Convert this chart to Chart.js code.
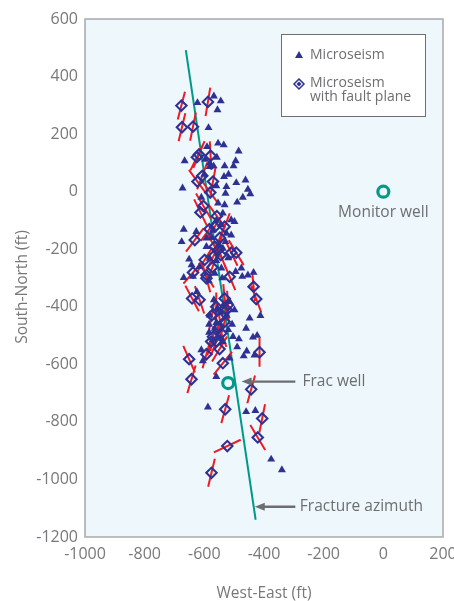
<!DOCTYPE html>
<html>
<head>
<meta charset="utf-8">
<script src="https://cdn.jsdelivr.net/npm/chart.js@4.4.1/dist/chart.umd.min.js"></script>
<style>
  html, body { margin: 0; padding: 0; background: #fff; }
</style>
</head>
<body>
<canvas id="chart" width="454" height="601"></canvas>
<script>
// Axis ticks (ft)
const X_TICKS = [-1000, -800, -600, -400, -200, 0, 200];
const Y_TICKS = [-1200, -1000, -800, -600, -400, -200, 0, 200, 400, 600];

// Plain microseisms [west-east, south-north] in ft
const microseisms = [
  [-623, 309], [-568, 332], [-545, 315], [-556, 284], [-586, 222],
  [-666, 107], [-554, 168], [-535, 162], [-485, 141], [-495, 107],
  [-591, 156], [-558, 119], [-532, 89], [-502, 89], [-582, 87],
  [-569, 89], [-519, 60], [-534, 52], [-462, 40], [-493, 31],
  [-597, 112], [-582, 99], [-673, 12], [-526, 17], [-454, 8],
  [-446, -8], [-529, -6], [-471, -20], [-490, -37], [-532, -46],
  [-554, -40], [-538, -75], [-669, -131], [-676, -174], [-510, -98],
  [-499, -104], [-526, -145], [-510, -151], [-571, -133], [-593, -162],
  [-627, -139], [-593, -191], [-529, -174], [-538, -197], [-651, -235],
  [-643, -255], [-582, -232], [-616, -261], [-669, -299], [-638, -295],
  [-565, -284], [-543, -266], [-495, -278], [-476, -266], [-473, -295],
  [-454, -290], [-435, -281], [-625, -348], [-568, -376], [-556, -405],
  [-537, -395], [-515, -382], [-499, -411], [-582, -429], [-448, -440],
  [-412, -431], [-584, -461], [-507, -461], [-460, -475], [-565, -475],
  [-584, -489], [-504, -504], [-484, -512], [-437, -506], [-423, -500],
  [-538, -521], [-610, -550], [-458, -554], [-468, -571], [-432, -568],
  [-515, -579], [-605, -588], [-560, -643], [-588, -749], [-460, -765],
  [-429, -761], [-376, -930], [-340, -967],
  [-560, -100], [-545, -115], [-575, -160], [-550, -185], [-520, -230],
  [-560, -240], [-540, -300], [-585, -310], [-545, -420], [-525, -430],
  [-560, -455], [-520, -480], [-545, -510], [-490, -540], [-600, 60],
  [-560, 20], [-610, -20]
];

// Microseisms with fault plane [west-east, south-north, strike in degrees from north]
const faultEvents = [
  [-677, 299, 14], [-588, 312, 9], [-675, 224, 13], [-638, 226, 11],
  [-618, 129, 22], [-625, 120, 25], [-579, 125, -3], [-607, 55, 20],
  [-623, 35, -35], [-571, 35, 10], [-580, -3, -35], [-613, -72, -25],
  [-603, -50, -30], [-558, -85, -35], [-532, -122, 20], [-565, -122, 30],
  [-583, -130, 35], [-548, -160, 20], [-632, -168, 36], [-565, -191, -30],
  [-554, -203, 15], [-510, -212, -25], [-493, -212, -30], [-599, -237, 31],
  [-573, -263, 20], [-638, -281, 40], [-593, -290, -30], [-515, -296, -22],
  [-593, -301, -15], [-435, -330, -5], [-641, -371, -27], [-616, -376, -18],
  [-560, -400, 0], [-532, -371, -5], [-521, -394, -3], [-426, -373, -20],
  [-549, -440, -10], [-575, -430, 10], [-532, -452, 15], [-554, -475, -10],
  [-543, -492, -20], [-571, -504, 10], [-577, -521, 15], [-549, -547, 30],
  [-593, -565, 15], [-651, -582, -23], [-415, -558, 0], [-538, -596, 38],
  [-643, -652, 16], [-443, -687, 15], [-530, -756, 15], [-406, -788, 11],
  [-421, -854, -30], [-523, -884, 64], [-576, -977, 13],
  [-545, -220, -20], [-570, -225, 25], [-525, -410, -10], [-560, -520, 20]
];

// Wells and fracture azimuth
const wells = [[0, 0], [-520, -665]];
const fractureAzimuth = [[-662, 492], [-428, -1140]];

// Annotations (ft)
const arrows = [
  { from: [-295, -660], to: [-475, -660] },
  { from: [-295, -1095], to: [-431, -1095] }
];
const notes = [
  { text: 'Monitor well', at: [0, -72], align: 'center' },
  { text: 'Frac well', at: [-271, -660], align: 'left' },
  { text: 'Fracture azimuth', at: [-280, -1095], align: 'left' }
];

const Y_TITLE = 'South-North (ft)';
const FAULT_HALF_LEN = 50; // ft, half length of the red fault-plane marks
const NAVY = '#2e3192';
const TEAL = '#009889';
const GRAY = '#6d6e71';
const AXIS_GRAY = '#77787b';

// red fault-plane segments, separated by gaps
const faultSegments = [];
faultEvents.forEach(([x, y, strike]) => {
  const r = strike * Math.PI / 180;
  const dx = Math.sin(r) * FAULT_HALF_LEN;
  const dy = Math.cos(r) * FAULT_HALF_LEN;
  faultSegments.push({ x: x - dx, y: y - dy }, { x: x + dx, y: y + dy }, { x: null, y: null });
});

const toPoints = arr => arr.map(([x, y]) => ({ x, y }));

// background, frame, y title, arrows, notes and the legend box
const extrasPlugin = {
  id: 'extras',
  beforeDraw(chart) {
    const { ctx, chartArea: a } = chart;
    ctx.save();
    ctx.fillStyle = '#eef7fc';
    ctx.fillRect(a.left, a.top, a.width, a.height);
    ctx.restore();
  },
  afterDraw(chart) {
    const { ctx, chartArea: a, scales: { x, y } } = chart;
    ctx.save();

    ctx.strokeStyle = '#a7a9ac';
    ctx.lineWidth = 1.5;
    ctx.strokeRect(a.left, a.top, a.width, a.height);

    // y axis title, sitting a little below the plot centre like the original
    ctx.save();
    ctx.translate(23, (a.top + a.bottom) / 2 + 9);
    ctx.rotate(-Math.PI / 2);
    ctx.fillStyle = AXIS_GRAY;
    ctx.font = "15.5px 'Open Sans', sans-serif";
    ctx.textAlign = 'center';
    ctx.textBaseline = 'middle';
    ctx.fillText(Y_TITLE, 0, 0);
    ctx.restore();

    // arrows
    ctx.strokeStyle = GRAY;
    ctx.fillStyle = GRAY;
    ctx.lineWidth = 2.4;
    arrows.forEach(ar => {
      const x1 = x.getPixelForValue(ar.from[0]);
      const x2 = x.getPixelForValue(ar.to[0]);
      const py = y.getPixelForValue(ar.from[1]);
      ctx.beginPath();
      ctx.moveTo(x1, py);
      ctx.lineTo(x2 + 8, py);
      ctx.stroke();
      ctx.beginPath();
      ctx.moveTo(x2, py);
      ctx.lineTo(x2 + 10, py - 4);
      ctx.lineTo(x2 + 10, py + 4);
      ctx.closePath();
      ctx.fill();
    });

    // notes
    ctx.font = "15.5px 'Open Sans', sans-serif";
    ctx.textBaseline = 'middle';
    notes.forEach(n => {
      ctx.textAlign = n.align;
      ctx.fillText(n.text, x.getPixelForValue(n.at[0]), y.getPixelForValue(n.at[1]));
    });

    // legend
    const bx = a.right - 162, by = a.top + 15;
    ctx.fillStyle = '#fff';
    ctx.fillRect(bx, by, 144, 82);
    ctx.strokeStyle = '#6d6e71';
    ctx.lineWidth = 1;
    ctx.strokeRect(bx + 0.5, by + 0.5, 144, 82);

    const mx = bx + 18;
    ctx.fillStyle = NAVY;
    ctx.beginPath();
    ctx.moveTo(mx, by + 17);
    ctx.lineTo(mx + 4, by + 24);
    ctx.lineTo(mx - 4, by + 24);
    ctx.closePath();
    ctx.fill();

    const dy = by + 50;
    ctx.strokeStyle = NAVY;
    ctx.lineWidth = 1.5;
    ctx.beginPath();
    ctx.moveTo(mx, dy - 5); ctx.lineTo(mx + 5, dy); ctx.lineTo(mx, dy + 5); ctx.lineTo(mx - 5, dy);
    ctx.closePath();
    ctx.stroke();
    ctx.beginPath();
    ctx.moveTo(mx, dy - 2.5); ctx.lineTo(mx + 2.5, dy); ctx.lineTo(mx, dy + 2.5); ctx.lineTo(mx - 2.5, dy);
    ctx.closePath();
    ctx.fill();

    ctx.fillStyle = GRAY;
    ctx.font = "14px 'Open Sans', sans-serif";
    ctx.textAlign = 'left';
    ctx.fillText('Microseism', bx + 29, by + 21);
    ctx.fillText('Microseism', bx + 29, by + 49);
    ctx.fillText('with fault plane', bx + 29, by + 63);

    ctx.restore();
  }
};

document.addEventListener('DOMContentLoaded', function () {
  Chart.defaults.font.family = "'Open Sans', sans-serif";

  new Chart(document.getElementById('chart'), {
    type: 'scatter',
    data: {
      datasets: [
        {
          label: 'Fracture azimuth',
          data: toPoints(fractureAzimuth),
          showLine: true,
          borderColor: TEAL,
          borderWidth: 2,
          pointRadius: 0,
          order: 5
        },
        {
          label: 'Fault plane',
          data: faultSegments,
          showLine: true,
          spanGaps: false,
          borderColor: '#ed1c24',
          borderWidth: 2,
          pointRadius: 0,
          order: 4
        },
        {
          label: 'Microseism',
          data: toPoints(microseisms),
          pointStyle: 'triangle',
          pointRadius: 4.6,
          backgroundColor: NAVY,
          borderColor: NAVY,
          borderWidth: 0,
          order: 3
        },
        {
          label: 'Microseism with fault plane',
          data: faultEvents.map(([x, y]) => ({ x, y })),
          pointStyle: 'rectRot',
          pointRadius: 5.2,
          backgroundColor: 'rgba(0,0,0,0)',
          borderColor: NAVY,
          borderWidth: 2.1,
          order: 2
        },
        {
          label: 'Wells',
          data: toPoints(wells),
          pointStyle: 'circle',
          pointRadius: 5.5,
          backgroundColor: 'rgba(0,0,0,0)',
          borderColor: TEAL,
          borderWidth: 3.2,
          order: 1
        }
      ]
    },
    options: {
      responsive: false,
      animation: false,
      layout: { padding: { top: 19, right: 11, bottom: 0, left: 0 } },
      scales: {
        x: {
          type: 'linear',
          min: -1000,
          max: 200,
          afterBuildTicks: s => { s.ticks = X_TICKS.map(v => ({ value: v })); },
          afterFit: s => { s.height = 64; s.paddingLeft = 0; s.paddingRight = 0; },
          grid: { display: false, drawTicks: false },
          border: { display: false },
          ticks: { padding: 8, color: AXIS_GRAY, font: { size: 16 }, maxRotation: 0, autoSkip: false, callback: v => String(v) },
          title: { display: true, text: 'West-East (ft)', color: AXIS_GRAY, font: { size: 15.5, lineHeight: 1 }, padding: 0 }
        },
        y: {
          type: 'linear',
          min: -1200,
          max: 600,
          afterBuildTicks: s => { s.ticks = Y_TICKS.map(v => ({ value: v })); },
          afterFit: s => { s.width = 85; s.paddingTop = 0; s.paddingBottom = 0; },
          grid: { display: false, drawTicks: false },
          border: { display: false },
          ticks: { padding: 7, color: AXIS_GRAY, font: { size: 16 }, autoSkip: false, callback: v => String(v) },
          title: { display: false }
        }
      },
      plugins: {
        legend: { display: false },
        tooltip: { enabled: false }
      }
    },
    plugins: [extrasPlugin]
  });
});
</script>
</body>
</html>
